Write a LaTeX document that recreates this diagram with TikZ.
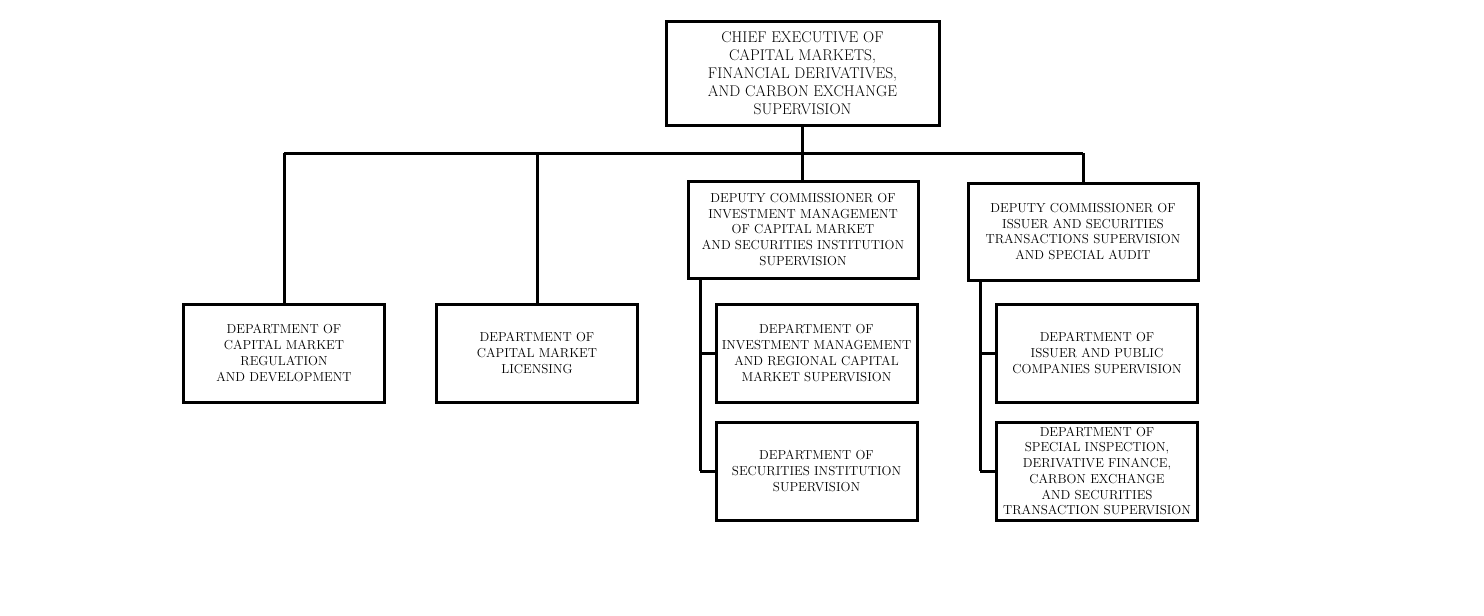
\documentclass[tikz,border=0pt]{standalone}
\usepackage{tikz}
\usetikzlibrary{calc}

\begin{document}
\begin{tikzpicture}[x=1pt, y=-1pt, line width=3pt,
        every node/.style={draw, rectangle, fill=white, align=center, inner sep=2pt,
            font=\fontsize{13}{15.7}\selectfont},
        chiefbox/.style={minimum width=273pt, minimum height=104pt,
            font=\fontsize{15.5}{18}\selectfont},
        deptbox/.style={minimum width=201pt, minimum height=98pt},
        depbox/.style={minimum width=230pt, minimum height=97pt}]
        \useasboundingbox (0,0) rectangle (1484,616);
        \node[chiefbox] (chief) at (802.5,73) {CHIEF EXECUTIVE OF\\CAPITAL MARKETS,\\FINANCIAL DERIVATIVES,\\AND CARBON EXCHANGE\\SUPERVISION};
        \node[deptbox] (reg) at (284,353) {DEPARTMENT OF\\CAPITAL MARKET\\REGULATION\\AND DEVELOPMENT};
        \node[deptbox] (lic) at (537,353) {DEPARTMENT OF\\CAPITAL MARKET\\LICENSING};
        \node[depbox] (depA) at (803,229.5) {DEPUTY COMMISSIONER OF\\INVESTMENT MANAGEMENT\\OF CAPITAL MARKET\\AND SECURITIES INSTITUTION\\SUPERVISION};
        \node[depbox] (depB) at (1083,231.5) {DEPUTY COMMISSIONER OF\\ISSUER AND SECURITIES\\TRANSACTIONS SUPERVISION\\AND SPECIAL AUDIT};
        \node[deptbox] (subA1) at (816.5,353) {DEPARTMENT OF\\INVESTMENT MANAGEMENT\\AND REGIONAL CAPITAL\\MARKET SUPERVISION};
        \node[deptbox] (subA2) at (816.5,471) {DEPARTMENT OF\\SECURITIES INSTITUTION\\SUPERVISION};
        \node[deptbox] (subB1) at (1097,353) {DEPARTMENT OF\\ISSUER AND PUBLIC\\COMPANIES SUPERVISION};
        \node[deptbox] (subB2) at (1097,471) {DEPARTMENT OF\\SPECIAL INSPECTION,\\DERIVATIVE FINANCE,\\CARBON EXCHANGE\\AND SECURITIES\\TRANSACTION SUPERVISION};
        \coordinate (bus) at (0,153);
        \coordinate (spineA) at (700,0);
        \coordinate (spineB) at (980,0);
        % top level
        \draw (chief.south) -- (chief.south |- depA.north);
        \draw (reg.north |- bus) -- (depB.north |- bus);
        \foreach \n in {reg,lic,depB} {
            \draw (\n.north |- bus) -- (\n.north);
        }
        % deputies
        \draw (spineA |- depA.south) -- (spineA |- subA2.west);
        \draw (spineB |- depB.south) -- (spineB |- subB2.west);
        \foreach \s/\n in {spineA/subA1,spineA/subA2,spineB/subB1,spineB/subB2} {
            \draw (\s |- \n.west) -- (\n.west);
        }
    \end{tikzpicture}
\end{document}
